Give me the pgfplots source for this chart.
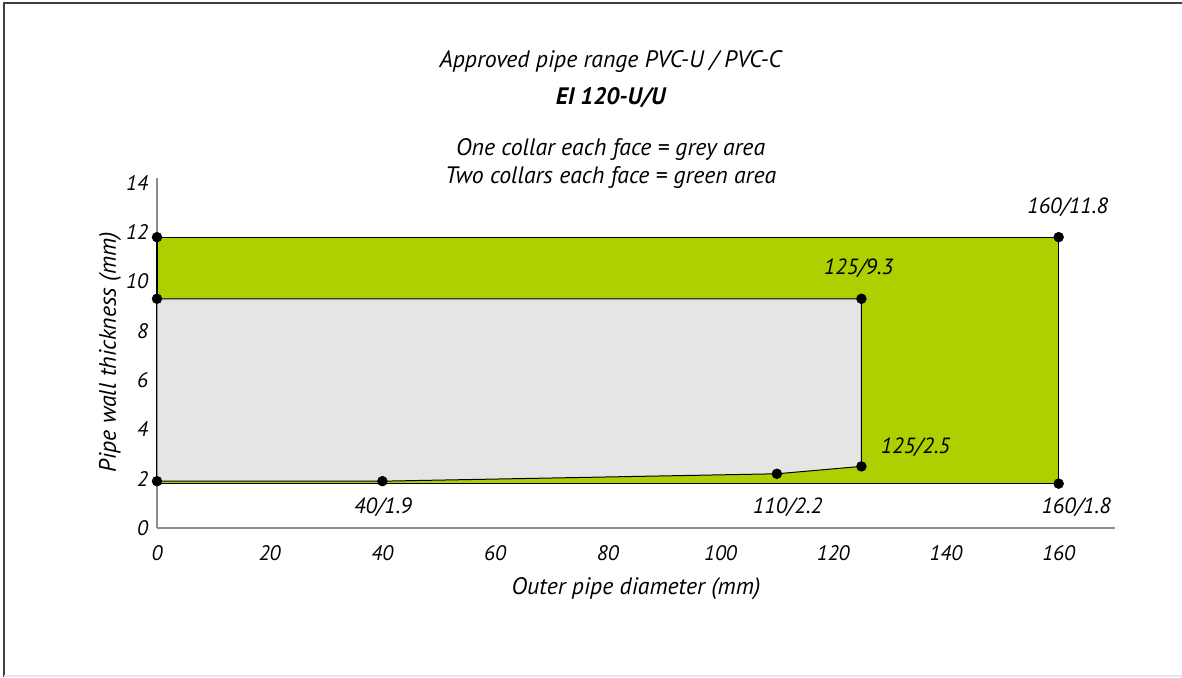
\documentclass[border=0pt]{standalone}
\usepackage{pgfplots}
\pgfplotsset{compat=1.18}
\usepackage{fontspec}
\setmainfont{PT Sans}

\definecolor{areagreen}{RGB}{175,207,0}
\definecolor{areagrey}{RGB}{229,229,229}
\definecolor{axgrey}{RGB}{140,140,140}

\tikzset{lbl/.style={font=\fontsize{11}{13}\selectfont\itshape},
         ttl/.style={font=\fontsize{11.9}{14}\selectfont\itshape}}

\begin{document}
\begin{tikzpicture}
% page frame, 1px = 0.5pt, axis origin at pixel (157,528)
\useasboundingbox (-78.5pt,-74.5pt) rectangle (512.5pt,264pt);
\draw[black!75, line width=1pt] (-76.5pt,-74.5pt) -- (-76.5pt,262.5pt) -- (512.5pt,262.5pt);
\draw[black!10, line width=0.8pt] (-76.5pt,-74pt) -- (512.5pt,-74pt);

\begin{axis}[
    scale only axis,
    width=479pt, height=175pt,
    xmin=0, xmax=170, ymin=0, ymax=14.2,
    axis lines=left,
    axis line style={axgrey, line width=0.8pt, -},
    xtick={0,20,...,160},
    ytick={0,2,...,14},
    major tick length=0pt,
    ticklabel style={font=\fontsize{10.5}{12}\selectfont\itshape},
    /pgf/number format/assume math mode=true,
    xticklabel style={yshift=-5pt},
    yticklabel style={xshift=-1pt},
    clip=false,
]
% two collars: green area
\addplot[fill=areagreen, draw=black, line width=0.6pt]
    coordinates {(0,1.8) (160,1.8) (160,11.8) (0,11.8)} -- cycle;
% one collar: grey area
\addplot[fill=areagrey, draw=black, line width=0.5pt]
    coordinates {(0,1.9) (40,1.9) (110,2.2) (125,2.5) (125,9.3) (0,9.3)} -- cycle;
% corner points
\addplot[only marks, mark=*, mark size=2.4pt, black]
    coordinates {(0,11.8) (0,9.3) (0,1.9) (40,1.9) (110,2.2) (125,2.5) (125,9.3) (160,11.8) (160,1.8)};

\node[lbl] at (axis cs:161.6,13.0) {160/11.8};
\node[lbl] at (axis cs:124.5,10.54) {125/9.3};
\node[lbl] at (axis cs:134.6,3.28) {125/2.5};
\node[lbl] at (axis cs:40.1,0.85) {40/1.9};
\node[lbl] at (axis cs:111.9,0.85) {110/2.2};
\node[lbl] at (axis cs:163.1,0.85) {160/1.8};

\node[ttl] at (axis cs:80.5,18.93) {Approved pipe range PVC-U / PVC-C};
\node[ttl, font=\fontsize{11.9}{14}\selectfont\bfseries\itshape] at (axis cs:80.5,17.47) {EI 120-U/U};
\node[ttl] at (axis cs:80.5,15.36) {One collar each face = grey area};
\node[ttl] at (axis cs:80.5,14.23) {Two collars each face = green area};

\node[ttl, rotate=90] at (axis cs:-8.35,7.13) {Pipe wall thickness (mm)};
\node[ttl] at (axis cs:85,-2.47) {Outer pipe diameter (mm)};
\end{axis}
\end{tikzpicture}
\end{document}
